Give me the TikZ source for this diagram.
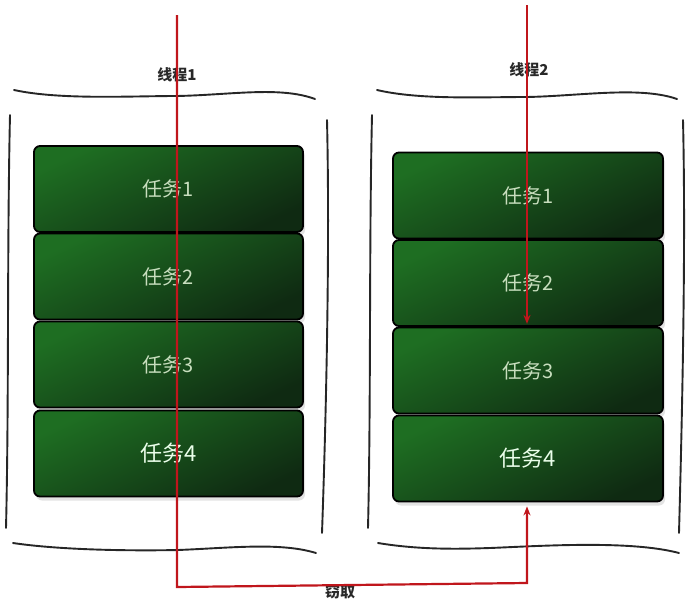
\documentclass[tikz,border=0pt]{standalone}
\usepackage{fontspec}
\setmainfont{Noto Sans CJK SC}
\usetikzlibrary{arrows.meta,shadows,calc}
\definecolor{gA}{RGB}{30,110,34}
\definecolor{gB}{RGB}{15,42,18}
\definecolor{tlight}{RGB}{200,222,190}
\definecolor{redline}{RGB}{192,22,28}
\definecolor{labgray}{RGB}{40,40,40}
\begin{document}
\begin{tikzpicture}[x=1pt,y=-1pt,
  task/.style={rounded corners=6pt, draw=black, line width=1.8pt,
    top color=gA, bottom color=gB, shading angle=25,
    drop shadow={opacity=0.22, shadow xshift=2pt, shadow yshift=-4pt},
    text=tlight, font=\fontsize{20}{22}\selectfont,
    minimum height=86pt, inner sep=0pt},
  lefttask/.style={task, minimum width=269pt},
  righttask/.style={task, minimum width=270pt},
  lasttask/.style={text=white!92!green, font=\fontsize{22}{24}\selectfont},
  sketch/.style={draw=black!85, line width=1.9pt, line cap=round},
  thread/.style={draw=redline, line width=2.2pt},
  title/.style={font=\bfseries\fontsize{15}{17}\selectfont, text=labgray}
]
\useasboundingbox (0,0) rectangle (694,600);

% sketchy frames, left
\draw[sketch] (14,90) .. controls (60,100) and (130,96) .. (177,96) .. controls (230,95) and (280,86) .. (315,99);
\draw[sketch] (10,115) .. controls (7,250) and (9,400) .. (6,528);
\draw[sketch] (327,120) .. controls (330,250) and (326,420) .. (322,533);
\draw[sketch] (13,543) .. controls (60,550) and (130,551) .. (178,550) .. controls (230,548) and (280,542) .. (316,553);
% sketchy frames, right
\draw[sketch] (377,90) .. controls (420,100) and (480,97) .. (527,97) .. controls (580,96) and (640,86) .. (677,99);
\draw[sketch] (372,115) .. controls (369,250) and (371,400) .. (368,528);
\draw[sketch] (683,120) .. controls (686,250) and (682,420) .. (679,533);
\draw[sketch] (378,543) .. controls (420,550) and (460,549) .. (490,548) .. controls (540,546) and (630,540) .. (679,553);

% titles
\node[title] (t1) at (177,75) {线程1};
\node[title] (t2) at (529,70) {线程2};

% left tasks
\node[lefttask] (a1) at (168.5,189) {任务1};
\node[lefttask] (a2) at (168.5,276.5) {任务2};
\node[lefttask] (a3) at (168.5,364.5) {任务3};
\node[lefttask, lasttask] (a4) at (168.5,453.5) {任务4};
% right tasks
\node[righttask] (b1) at (528,195.5) {任务1};
\node[righttask] (b2) at (528,283) {任务2};
\node[righttask] (b3) at (528,370.5) {任务3};
\node[righttask, lasttask] (b4) at (528,458.5) {任务4};

% steal label
\node[title] (steal) at (340,592) {窃取};

% threads
\coordinate (s1) at (177,15);
\coordinate (c1) at (177,587);
\coordinate (c2) at (527,583);
\coordinate (s2) at (527,5);
\draw[thread, -{Stealth[length=9pt,width=7pt]}] (s1) -- (c1) -- (c2) -- ([xshift=-1pt,yshift=-4pt]b4.south);
\draw[thread, -{Stealth[length=9pt,width=7pt]}] (s2) -- ([xshift=-1pt,yshift=3pt]b2.south);
\end{tikzpicture}
\end{document}
